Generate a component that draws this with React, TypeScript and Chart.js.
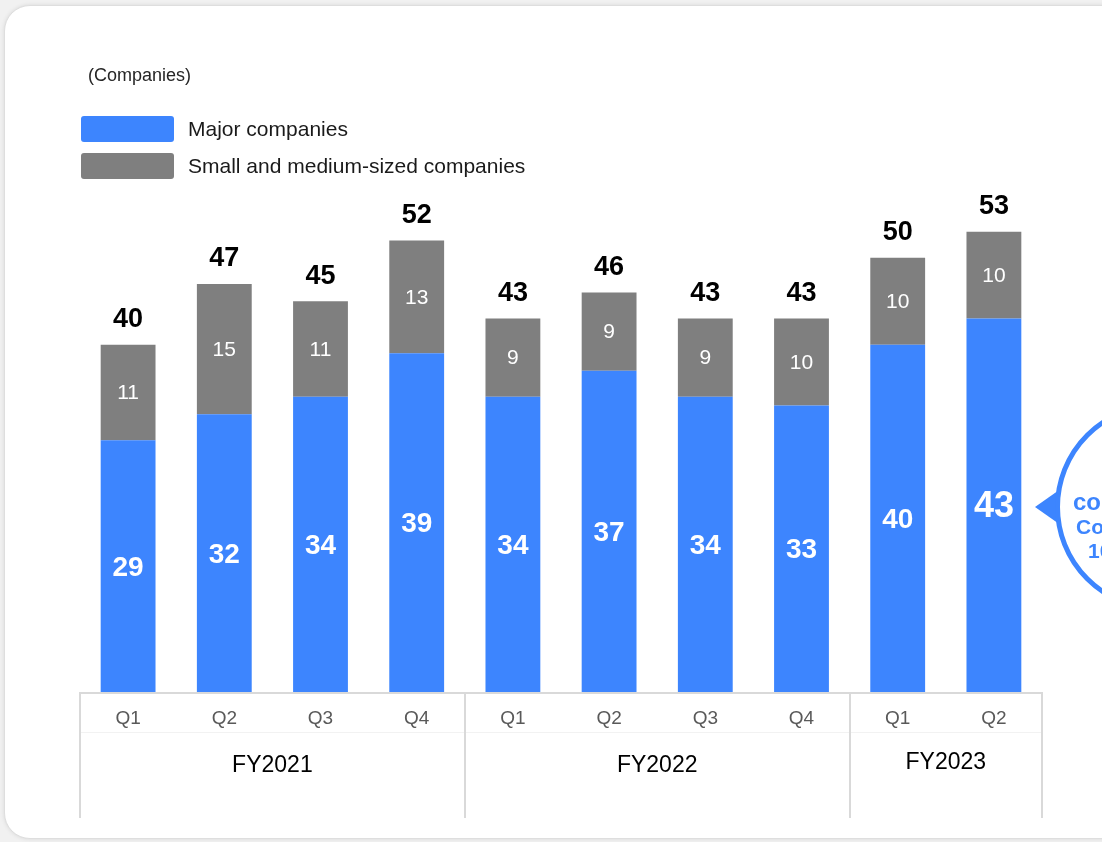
import React, { useEffect, useRef } from "react";
import { Chart, registerables } from "chart.js";

Chart.register(...registerables);

const categories = ["Q1", "Q2", "Q3", "Q4", "Q1", "Q2", "Q3", "Q4", "Q1", "Q2"];
const fiscalYears = ["FY2021", "FY2022", "FY2023"];
const fyGroupSizes = [4, 4, 2];
const majorCompanies = [29, 32, 34, 39, 34, 37, 34, 33, 40, 43];
const smallMediumCompanies = [11, 15, 11, 13, 9, 9, 9, 10, 10, 10];
const totalCompanies = [40, 47, 45, 52, 43, 46, 43, 43, 50, 53];
const seriesNames = ["Major companies", "Small and medium-sized companies"];
const unitLabel = "(Companies)";
const calloutLines = ["companies", "Compared with", "10 companies"];

const BLUE = "#3D85FE";
const GRAY = "#7F7F7F";
const FONT = "'Liberation Sans', Arial, sans-serif";

const overlayPlugin = {
  id: "overlay",
  afterDatasetsDraw(chart: any) {
    const ctx = chart.ctx as CanvasRenderingContext2D;
    const x = chart.scales.x;
    const area = chart.chartArea;
    ctx.save();

    // unit label
    ctx.textBaseline = "middle";
    ctx.textAlign = "left";
    ctx.fillStyle = "#262626";
    ctx.font = `18px ${FONT}`;
    ctx.fillText(unitLabel, 88, 76);

    // legend
    const legendColors = [BLUE, GRAY];
    const legendY = [116, 153];
    legendColors.forEach((c, i) => {
      ctx.fillStyle = c;
      ctx.beginPath();
      (ctx as any).roundRect(81, legendY[i], 93, 26, 3);
      ctx.fill();
      ctx.fillStyle = "#1a1a1a";
      ctx.font = `21px ${FONT}`;
      ctx.fillText(seriesNames[i], 188, legendY[i] + 14);
    });

    // axis table
    const slot = x.getPixelForValue(1) - x.getPixelForValue(0);
    const baseY = area.bottom;
    ctx.strokeStyle = "#f2f2f2";
    ctx.lineWidth = 1;
    ctx.beginPath();
    ctx.moveTo(area.left, 732.5);
    ctx.lineTo(area.right, 732.5);
    ctx.stroke();

    ctx.strokeStyle = "#d9d9d9";
    ctx.lineWidth = 2;
    ctx.beginPath();
    ctx.moveTo(area.left, baseY + 1);
    ctx.lineTo(area.right, baseY + 1);
    ctx.stroke();

    let idx = 0;
    const bounds: number[] = [x.getPixelForValue(0) - slot / 2];
    fyGroupSizes.forEach((n) => {
      idx += n;
      bounds.push(x.getPixelForValue(idx - 1) + slot / 2);
    });
    ctx.beginPath();
    bounds.forEach((bx) => {
      ctx.moveTo(Math.round(bx), baseY);
      ctx.lineTo(Math.round(bx), 818);
    });
    ctx.stroke();

    ctx.textAlign = "center";
    ctx.fillStyle = "#595959";
    ctx.font = `19px ${FONT}`;
    categories.forEach((c, i) => {
      ctx.fillText(c, x.getPixelForValue(i), 719);
    });
    ctx.fillStyle = "#000";
    ctx.font = `23px ${FONT}`;
    fiscalYears.forEach((fy, i) => {
      const cx = (bounds[i] + bounds[i + 1]) / 2;
      ctx.fillText(fy, cx, i === 2 ? 763 : 766);
    });

    // bar labels
    const m0 = chart.getDatasetMeta(0);
    const m1 = chart.getDatasetMeta(1);
    m0.data.forEach((bar: any, i: number) => {
      const cy = (bar.y + bar.base) / 2;
      ctx.fillStyle = "#fff";
      const big = i === majorCompanies.length - 1;
      ctx.font = `bold ${big ? 36 : 28}px ${FONT}`;
      ctx.fillText(String(majorCompanies[i]), bar.x, cy + 2);
    });
    m1.data.forEach((bar: any, i: number) => {
      const cy = (bar.y + bar.base) / 2;
      ctx.fillStyle = "#fff";
      ctx.font = `21px ${FONT}`;
      ctx.fillText(String(smallMediumCompanies[i]), bar.x, cy + 1);
      ctx.fillStyle = "#000";
      ctx.font = `bold 27px ${FONT}`;
      ctx.fillText(String(totalCompanies[i]), bar.x, bar.y - 25);
    });

    // callout
    ctx.fillStyle = BLUE;
    ctx.beginPath();
    ctx.moveTo(1035, 507);
    ctx.lineTo(1062, 488);
    ctx.lineTo(1062, 526);
    ctx.closePath();
    ctx.fill();
    ctx.beginPath();
    ctx.arc(1159, 507, 101.5, 0, Math.PI * 2);
    ctx.fillStyle = "#fff";
    ctx.fill();
    ctx.strokeStyle = BLUE;
    ctx.lineWidth = 5;
    ctx.stroke();
    ctx.fillStyle = BLUE;
    ctx.textAlign = "left";
    ctx.font = `bold 24px ${FONT}`;
    ctx.fillText(calloutLines[0], 1073, 503);
    ctx.font = `bold 21px ${FONT}`;
    ctx.fillText(calloutLines[1], 1076, 528);
    ctx.fillText(calloutLines[2], 1088, 552);

    ctx.restore();
  },
};

export default function App() {
  const ref = useRef<HTMLCanvasElement | null>(null);
  useEffect(() => {
    if (!ref.current) return;
    const chart = new Chart(ref.current, {
      type: "bar",
      data: {
        labels: categories,
        datasets: [
          {
            label: seriesNames[0],
            data: majorCompanies,
            backgroundColor: BLUE,
            borderWidth: 0,
            barPercentage: 0.57,
            categoryPercentage: 1,
          },
          {
            label: seriesNames[1],
            data: smallMediumCompanies,
            backgroundColor: GRAY,
            borderWidth: 0,
            barPercentage: 0.57,
            categoryPercentage: 1,
          },
        ],
      },
      options: {
        responsive: false,
        animation: false,
        devicePixelRatio: 1,
        layout: { padding: { left: 80, right: 60, top: 171, bottom: 150 } },
        plugins: { legend: { display: false }, tooltip: { enabled: false } },
        scales: {
          x: { stacked: true, display: false },
          y: { stacked: true, display: false, min: 0, max: 60 },
        },
      },
      plugins: [overlayPlugin],
    });
    return () => chart.destroy();
  }, []);

  return (
    <div
      style={{
        position: "fixed",
        left: 0,
        top: 0,
        width: 1102,
        height: 842,
        background: "#f1f1f1",
        overflow: "hidden",
      }}
    >
      <div
        style={{
          position: "absolute",
          left: 4,
          top: 5,
          width: 1125,
          height: 832,
          background: "#fff",
          borderRadius: 26,
          border: "1px solid #dedede",
          boxShadow: "0 0 4px rgba(0,0,0,0.10)",
        }}
      />
      <canvas
        ref={ref}
        width={1102}
        height={842}
        style={{ position: "absolute", left: 0, top: 0, width: 1102, height: 842 }}
      />
    </div>
  );
}
